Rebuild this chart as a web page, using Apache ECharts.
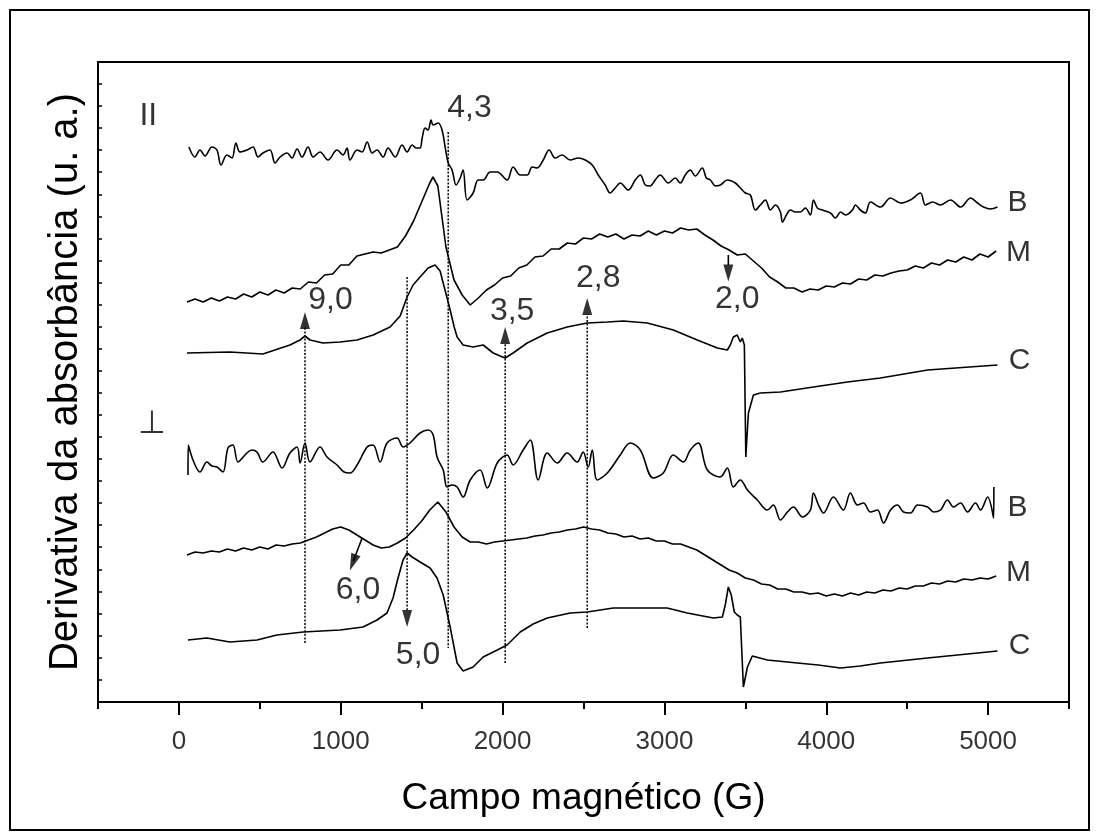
<!DOCTYPE html>
<html><head><meta charset="utf-8">
<script src="https://cdn.jsdelivr.net/npm/echarts@6/dist/echarts.min.js"></script>
<style>
html,body{margin:0;padding:0;background:#fff;}
#frame{position:absolute;left:9px;top:9px;width:1077px;height:818px;border:2px solid #000;}
#chart{position:absolute;left:0;top:0;width:1098px;height:838px;}
</style></head><body>
<div id="frame"></div>
<div id="chart"></div>
<script>
// ---- data (x: magnetic field in G, y: derivative of absorbance, arbitrary offset units) ----
const xMajorTicks = [0, 1000, 2000, 3000, 4000, 5000];
const xMinorTicks = [-500, 500, 1500, 2500, 3500, 4500, 5500];
const xTickLabels = ['0', '1000', '2000', '3000', '4000', '5000'];
const yTicks = [22, 44, 66, 88, 110, 132, 155, 177, 199, 221, 243, 265, 287, 309, 331, 353, 375, 397, 419, 441, 463, 485, 507, 530, 552, 574, 596, 618];

// parallel orientation, sample B
const parB = [[62,555],[99,545],[130,552],[161,546],[204,555],[235,552],[260,537],[297,547],[328,544],[352,559],[377,550],[420,552],[458,555],[489,545],[519,549],[563,552],[594,539],[625,545],[668,549],[699,544],[730,553],[761,545],[798,555],[829,545],[872,550],[921,542],[977,552],[1014,547],[1039,554],[1057,542],[1101,552],[1132,550],[1163,560],[1194,549],[1224,552],[1262,545],[1292,554],[1336,545],[1379,557],[1410,550],[1441,557],[1465,554],[1490,554],[1503,564],[1521,574],[1540,572],[1558,582],[1571,577],[1602,579],[1626,572],[1645,555],[1664,539],[1688,532],[1713,517],[1738,524],[1756,532],[1781,502],[1818,509],[1849,522],[1880,522],[1923,530],[1967,530],[2028,522],[2065,535],[2109,527],[2152,527],[2183,535],[2214,534],[2251,542],[2288,552],[2325,544],[2368,547],[2418,542],[2467,544],[2511,542],[2554,537],[2591,527],[2634,517],[2665,509],[2696,514],[2727,519],[2777,512],[2820,522],[2851,527],[2882,517],[2912,516],[2943,522],[2974,527],[3024,519],[3067,524],[3098,519],[3129,527],[3160,532],[3191,526],[3234,534],[3259,524],[3284,522],[3315,516],[3345,517],[3389,522],[3438,519],[3469,514],[3500,509],[3531,507],[3562,492],[3593,497],[3624,502],[3655,492],[3686,497],[3717,490],[3729,480],[3754,487],[3778,492],[3809,490],[3840,490],[3871,494],[3902,487],[3921,502],[3945,494],[3976,492],[4026,489],[4057,484],[4088,490],[4119,487],[4162,492],[4180,497],[4211,492],[4242,489],[4273,500],[4335,495],[4397,504],[4459,499],[4520,502],[4582,509],[4613,497],[4657,500],[4706,497],[4768,502],[4830,495],[4892,504],[4935,499],[4972,495],[5015,493],[5058,495]];

// parallel orientation, sample M
const parM = [[50,400],[100,403],[150,400],[200,404],[250,401],[300,405],[350,403],[400,408],[450,405],[500,410],[550,407],[600,412],[650,409],[700,414],[750,413],[800,420],[850,419],[900,427],[950,428],[1000,437],[1050,437],[1100,446],[1150,448],[1200,450],[1250,449],[1300,452],[1350,455],[1400,466],[1450,481],[1500,500],[1550,519],[1570,525],[1600,516],[1650,455],[1700,422],[1750,407],[1800,397],[1850,404],[1900,412],[1950,417],[2000,424],[2050,426],[2100,434],[2150,437],[2200,445],[2250,446],[2300,453],[2350,453],[2400,459],[2450,458],[2500,464],[2550,463],[2600,468],[2650,465],[2700,468],[2750,463],[2800,467],[2850,466],[2900,471],[2950,467],[3000,471],[3050,469],[3100,474],[3150,472],[3200,473],[3250,467],[3300,462],[3350,456],[3400,452],[3450,447],[3500,448],[3550,441],[3600,434],[3650,425],[3700,420],[3750,414],[3800,414],[3850,410],[3900,413],[3950,412],[4000,416],[4050,415],[4100,419],[4150,418],[4200,423],[4250,422],[4300,427],[4350,426],[4400,429],[4450,431],[4500,432],[4550,436],[4600,434],[4650,439],[4700,437],[4750,442],[4800,440],[4850,445],[4900,442],[4950,448],[5000,445],[5050,451]];

// parallel orientation, sample C
const parC = [[50,349],[315,350],[519,348],[686,357],[748,362],[779,366],[810,362],[890,359],[996,360],[1101,362],[1200,367],[1305,375],[1367,386],[1410,405],[1447,417],[1490,425],[1540,434],[1583,437],[1614,431],[1633,419],[1657,404],[1676,392],[1701,375],[1719,365],[1756,357],[1818,355],[1880,357],[1942,349],[1985,346],[2016,344],[2065,349],[2152,359],[2276,369],[2399,375],[2523,379],[2647,380],[2746,381],[2894,379],[3055,372],[3203,362],[3327,354],[3389,352],[3407,357],[3426,365],[3450,367],[3469,360],[3481,364],[3494,357],[3503,245],[3519,289],[3550,307],[3593,309],[3717,310],[3921,315],[4131,320],[4335,324],[4626,332],[5058,337]];

// perpendicular orientation, sample B
const perB = [[56,227],[58,257],[87,242],[130,230],[173,240],[204,236],[235,235],[272,230],[303,254],[334,257],[365,240],[420,249],[451,252],[482,250],[519,240],[581,250],[637,234],[686,249],[730,255],[749,239],[779,259],[810,240],[872,255],[915,245],[977,237],[1020,230],[1057,229],[1101,237],[1163,255],[1200,257],[1243,240],[1286,259],[1348,264],[1385,255],[1428,259],[1490,269],[1540,272],[1571,267],[1595,245],[1633,232],[1657,215],[1688,217],[1719,215],[1756,205],[1800,222],[1861,232],[1905,214],[1967,239],[2028,247],[2065,237],[2127,252],[2171,262],[2220,222],[2276,249],[2338,239],[2399,249],[2461,240],[2498,250],[2529,235],[2554,252],[2585,222],[2647,229],[2727,247],[2789,259],[2851,252],[2931,224],[2993,229],[3055,247],[3117,240],[3160,252],[3209,259],[3265,232],[3345,225],[3389,234],[3426,215],[3469,222],[3513,212],[3574,202],[3636,192],[3673,197],[3717,182],[3760,190],[3797,195],[3853,185],[3902,192],[3921,209],[3952,197],[3983,189],[4044,205],[4106,192],[4149,209],[4193,197],[4230,199],[4273,190],[4316,192],[4354,179],[4397,192],[4440,197],[4477,190],[4520,189],[4564,197],[4626,195],[4663,190],[4706,192],[4749,202],[4786,195],[4830,199],[4873,190],[4922,199],[4953,192],[4997,205],[5034,184],[5036,215]];

// perpendicular orientation, sample M
const perM = [[50,147],[100,150],[150,149],[200,151],[250,150],[300,153],[350,151],[400,154],[450,152],[500,155],[550,153],[600,157],[650,156],[700,158],[750,159],[800,162],[850,165],[900,169],[950,173],[1000,175],[1050,172],[1100,167],[1150,162],[1200,157],[1250,154],[1300,155],[1350,159],[1400,164],[1450,172],[1500,181],[1550,192],[1600,200],[1650,190],[1700,175],[1750,165],[1800,160],[1850,160],[1900,158],[1950,160],[2000,161],[2050,162],[2100,163],[2150,164],[2200,166],[2250,167],[2300,169],[2350,170],[2400,172],[2450,173],[2500,175],[2550,173],[2600,172],[2650,169],[2700,168],[2750,165],[2800,166],[2850,163],[2900,164],[2950,161],[3000,161],[3050,158],[3100,158],[3150,155],[3200,152],[3250,147],[3300,142],[3350,137],[3400,132],[3450,129],[3500,124],[3550,122],[3600,118],[3650,117],[3700,113],[3750,113],[3800,110],[3850,110],[3900,108],[3950,109],[4000,106],[4050,108],[4100,106],[4150,109],[4200,107],[4250,110],[4300,109],[4350,112],[4400,111],[4450,114],[4500,113],[4550,116],[4600,116],[4650,119],[4700,118],[4750,121],[4800,120],[4850,123],[4900,122],[4950,124],[5000,123],[5050,126]];

// perpendicular orientation, sample C
const perC = [[56,62],[173,64],[315,60],[482,62],[606,67],[767,70],[996,72],[1138,75],[1224,82],[1286,89],[1323,104],[1354,124],[1385,142],[1410,149],[1441,145],[1490,140],[1552,134],[1595,124],[1633,107],[1676,75],[1719,39],[1756,31],[1818,35],[1880,45],[1967,52],[2028,57],[2109,70],[2189,78],[2276,84],[2418,89],[2523,90],[2684,94],[2894,94],[3017,94],[3141,89],[3302,84],[3358,85],[3376,97],[3395,115],[3413,107],[3432,90],[3450,87],[3469,85],[3488,15],[3513,35],[3543,46],[3636,42],[3822,39],[3950,37],[4088,34],[4210,36],[4335,39],[4626,44],[5058,51]];

// dotted marker lines (g-value positions)
const dottedLines = [
  [[779,59],[779,376]],
  [[1410,425],[1410,91]],
  [[1664,570],[1664,54]],
  [[2016,39],[2016,359]],
  [[2523,74],[2523,388]]
];
// solid arrow shafts
const solidShafts = [
  [[3395,447],[3395,437]],
  [[1132,164],[1078,141]]
];
// arrow heads: [x, y, rotation]
const arrowHeads = [[779,381.5,0],[1410,83.5,180],[2016,366.5,0],[2523,395.5,0],[3395,429,180],[1075,139.5,159]];

// text labels: [x, y, text]
const gLabels = [[937,402,'9,0'],[1478,47,'5,0'],[1796,594,'4,3'],[2059,391,'3,5'],[2591,424,'2,8'],[3450,403,'2,0'],[1107,112,'6,0']];
const sampleLabels = [[5182,499,'B'],[5188,449,'M'],[5194,341,'C'],[5182,194,'B'],[5188,129,'M'],[5194,56,'C']];
const orientLabels = [[-189,586,'II'],[-167,278,'⊥']];
const tickLabelOffset = -40; // tick-label row, below the axis (y units)

// ---- chart ----
const FONT = "'Liberation Sans', Arial, Helvetica, sans-serif";
const chart = echarts.init(document.getElementById('chart'), null, {renderer:'canvas'});

function trace(name, data, smooth) {
  return {name, type:'line', data, showSymbol:false, symbol:'none', silent:true, z:3,
    smooth: smooth || false,
    lineStyle:{color:'#000', width:1.6}, animation:false};
}
const series = [
  trace('parB', parB, 0.35), trace('parM', parM), trace('parC', parC),
  trace('perB', perB, 0.35), trace('perM', perM), trace('perC', perC)
];
dottedLines.forEach((d,i)=>series.push({name:'dot'+i, type:'line', data:d, showSymbol:false, symbol:'none', silent:true, z:2,
  lineStyle:{color:'#000', width:1.5, type:[2,1.6]}}));
solidShafts.forEach((d,i)=>series.push({name:'shaft'+i, type:'line', data:d, showSymbol:false, symbol:'none', silent:true, z:4,
  lineStyle:{color:'#000', width:1.6}}));
series.push({name:'heads', type:'scatter', silent:true, z:5,
  data: arrowHeads.map(a=>({value:[a[0],a[1]], symbolRotate:a[2]})),
  symbol:'triangle', symbolSize:[10,17], itemStyle:{color:'#000'}});
function textSeries(name, arr, size) {
  return {name, type:'scatter', silent:true, z:6, symbolSize:0, clip:false,
    data: arr.map(a=>({value:[a[0],a[1]], name:a[2]})),
    label:{show:true, position:'inside', formatter:'{b}', color:'#000', fontSize:size, fontFamily:FONT}};
}
series.push(textSeries('gLabels', gLabels, 32));
series.push(textSeries('sampleLabels', sampleLabels, 30));
series.push(textSeries('orientLabels', orientLabels, 32));
series.push(textSeries('xTickLabels', xMajorTicks.map((v,i)=>[v, tickLabelOffset, xTickLabels[i]]), 26));

chart.setOption({
  animation:false,
  backgroundColor:'transparent',
  textStyle:{fontFamily:FONT},
  grid:{left:98, right:29, top:62, bottom:136, show:true, borderColor:'#000', borderWidth:2, containLabel:false},
  xAxis:[{
    type:'value', min:-500, max:5500, position:'bottom',
    axisLine:{show:true, onZero:false, lineStyle:{color:'#000', width:2}},
    axisTick:{show:true, customValues:xMajorTicks, length:13, lineStyle:{color:'#000', width:2}},
    axisLabel:{show:false},
    splitLine:{show:false},
    name:'Campo magnético (G)', nameLocation:'middle', nameGap:78,
    nameTextStyle:{color:'#000', fontSize:37, fontFamily:FONT}
  },{
    type:'value', min:-500, max:5500, position:'bottom',
    axisLine:{show:false, onZero:false},
    axisTick:{show:true, customValues:xMinorTicks, length:7, lineStyle:{color:'#000', width:2}},
    axisLabel:{show:false}, splitLine:{show:false}
  }],
  yAxis:{
    type:'value', min:0, max:640,
    axisLine:{show:true, onZero:false, lineStyle:{color:'#000', width:2}},
    axisTick:{show:true, inside:true, customValues:yTicks, length:4, lineStyle:{color:'#000', width:1.5}},
    axisLabel:{show:false}, splitLine:{show:false},
    name:'Derivativa da absorbância (u. a.)', nameLocation:'middle', nameGap:12, nameRotate:90,
    nameTextStyle:{color:'#000', fontSize:40, fontFamily:FONT}
  },
  series
});
</script>
</body></html>
